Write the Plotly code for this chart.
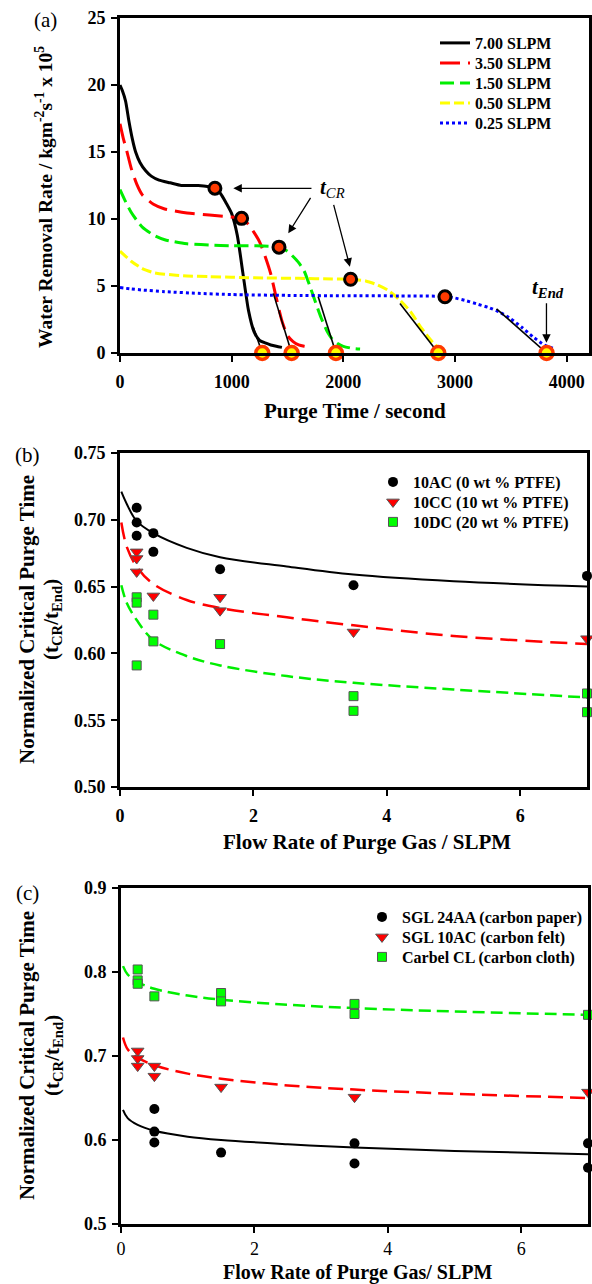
import plotly.graph_objects as go

FONT = "Liberation Serif"
W, H = 592, 1284

# ---------------- Panel (a): water removal rate vs purge time ----------------
names_a = ["7.00 SLPM", "3.50 SLPM", "1.50 SLPM", "0.50 SLPM", "0.25 SLPM"]

t_700 = [0, 20, 50, 80, 110, 140, 180, 230, 280, 350, 450, 550, 700, 800, 850,
         900, 950, 1000, 1050, 1100, 1150, 1200, 1250, 1300, 1350, 1400, 1450]
r_700 = [20.0, 19.6, 18.8, 17.3, 16.0, 15.0, 14.2, 13.6, 13.2, 12.9, 12.7, 12.5, 12.5, 12.4, 12.3,
         11.9, 11.2, 10.4, 8.8, 6.0, 3.2, 1.6, 0.95, 0.75, 0.6, 0.5, 0.42]

t_350 = [0, 30, 60, 100, 150, 200, 300, 400, 600, 800, 1000, 1089, 1150, 1200, 1250,
         1300, 1350, 1400, 1450, 1500, 1550, 1600, 1650, 1700]
r_350 = [17.1, 16.0, 15.1, 13.8, 12.6, 11.8, 11.1, 10.75, 10.45, 10.3, 10.15, 10.05, 9.6, 9.0, 8.3,
         7.2, 5.9, 4.1, 2.4, 1.3, 0.85, 0.6, 0.5, 0.45]

t_150 = [0, 50, 100, 150, 200, 300, 400, 600, 800, 1000, 1200, 1424, 1500, 1550, 1600,
         1650, 1700, 1750, 1800, 1850, 1900, 1950, 2000, 2080, 2150]
r_150 = [12.2, 11.3, 10.5, 9.9, 9.4, 8.8, 8.45, 8.15, 8.05, 8.0, 8.0, 7.9, 7.6, 7.2, 6.75,
         6.1, 5.0, 3.8, 2.65, 1.7, 1.05, 0.7, 0.5, 0.35, 0.3]

t_050 = [0, 100, 200, 300, 400, 600, 800, 1000, 1300, 1600, 1900, 2065, 2200, 2300, 2400,
         2500, 2600, 2700, 2800, 2850]
r_050 = [7.6, 6.85, 6.3, 6.0, 5.88, 5.75, 5.7, 5.65, 5.6, 5.57, 5.52, 5.5, 5.38, 5.1, 4.68,
         4.0, 3.1, 1.85, 0.8, 0.4]

t_025 = [0, 100, 200, 400, 700, 1000, 1500, 2000, 2500, 2910, 3000, 3100, 3200, 3300, 3400,
         3500, 3600, 3700, 3800, 3880]
r_025 = [4.88, 4.78, 4.7, 4.58, 4.45, 4.36, 4.3, 4.27, 4.26, 4.22, 4.1, 3.9, 3.65, 3.4, 3.05,
         2.55, 1.9, 1.2, 0.6, 0.35]

# critical purge time points and end points
tcr_t = [850, 1089, 1424, 2065, 2910]
tcr_r = [12.3, 10.05, 7.9, 5.5, 4.2]
tend_t = [1274, 1537, 1934, 2850, 3820]
tend_r = [0, 0, 0, 0, 0]

# tangent lines (start point on curve -> t_End)
tan_start_t = [1195, 1373, 1775, 2507, 3372]
tan_start_r = [1.9, 4.45, 4.2, 3.7, 3.3]

# arrows (tail -> head)
arrow_tail_t = [1728, 1715, 1910]
arrow_tail_r = [12.29, 11.69, 11.17]
arrow_head_t = [1015, 1507, 2059]
arrow_head_r = [12.29, 8.93, 6.44]
end_arrow_t = 3819
end_arrow_r = [3.83, 0.77]
tcr_label = (1900, 12.3)
tend_label = (3834, 4.83)

# ---------------- Panel (b): PTFE loading ----------------
names_b = ["10AC (0 wt % PTFE)", "10CC (10 wt % PTFE)", "10DC (20 wt % PTFE)"]
flow_b_ac = [0.25, 0.25, 0.25, 0.5, 0.5, 1.5, 3.5, 7]
ratio_b_ac = [0.709, 0.698, 0.688, 0.690, 0.676, 0.663, 0.651, 0.658]
flow_b_cc = [0.25, 0.25, 0.25, 0.5, 1.5, 1.5, 3.5, 7]
ratio_b_cc = [0.676, 0.671, 0.661, 0.643, 0.642, 0.632, 0.616, 0.611]
flow_b_dc = [0.25, 0.25, 0.25, 0.5, 0.5, 1.5, 3.5, 3.5, 7, 7]
ratio_b_dc = [0.642, 0.638, 0.591, 0.629, 0.609, 0.607, 0.568, 0.557, 0.570, 0.556]

fitx_b = [0.02, 0.1, 0.25, 0.5, 1, 1.5, 2.5, 3.5, 5, 7]
fit_b_ac = [0.721, 0.712, 0.699, 0.690, 0.679, 0.672, 0.665, 0.659, 0.654, 0.650]
fit_b_cc = [0.698, 0.680, 0.665, 0.652, 0.640, 0.634, 0.627, 0.621, 0.613, 0.607]
fit_b_dc = [0.651, 0.638, 0.625, 0.610, 0.598, 0.591, 0.583, 0.578, 0.573, 0.567]

# ---------------- Panel (c): GDL type ----------------
names_c = ["SGL 24AA (carbon paper)", "SGL 10AC (carbon felt)", "Carbel CL (carbon cloth)"]
flow_c_paper = [0.5, 0.5, 0.5, 1.5, 3.5, 3.5, 7, 7]
ratio_c_paper = [0.637, 0.610, 0.597, 0.585, 0.596, 0.572, 0.596, 0.567]
flow_c_felt = [0.25, 0.25, 0.25, 0.5, 0.5, 1.5, 3.5, 7]
ratio_c_felt = [0.706, 0.697, 0.688, 0.688, 0.676, 0.663, 0.651, 0.657]
flow_c_cloth = [0.25, 0.25, 0.25, 0.5, 1.5, 1.5, 3.5, 3.5, 7]
ratio_c_cloth = [0.803, 0.790, 0.786, 0.771, 0.775, 0.765, 0.762, 0.750, 0.749]

fitx_c = [0.03, 0.1, 0.25, 0.5, 1, 1.5, 2.5, 3.5, 5, 7]
fit_c_paper = [0.636, 0.626, 0.618, 0.611, 0.604, 0.600, 0.595, 0.591, 0.587, 0.583]
fit_c_felt = [0.722, 0.708, 0.698, 0.689, 0.679, 0.673, 0.665, 0.660, 0.655, 0.650]
fit_c_cloth = [0.807, 0.797, 0.788, 0.780, 0.772, 0.767, 0.761, 0.757, 0.753, 0.749]


def px(xp):
    return xp / W


def py(yp):
    return 1 - yp / H


fig = go.Figure()

# ---- panel (a) curves
a_styles = [
    dict(color="#000000", width=3, dash="solid"),
    dict(color="#ff0000", width=3, dash="20px,8px"),
    dict(color="#00ee00", width=3, dash="14px,6px"),
    dict(color="#ffff00", width=3, dash="10px,4px"),
    dict(color="#0000ff", width=3, dash="dot"),
]
a_data = [(t_700, r_700), (t_350, r_350), (t_150, r_150), (t_050, r_050), (t_025, r_025)]
for i, ((tt, rr), nm, st) in enumerate(zip(a_data, names_a, a_styles)):
    fig.add_trace(go.Scatter(x=tt, y=rr, mode="lines", name=nm, line=dict(shape="spline", smoothing=0.6, **st),
                             xaxis="x", yaxis="y", legend="legend" if i == 0 else f"legend{i + 1}"))

for ts, rs, te, re_ in zip(tan_start_t, tan_start_r, tend_t, tend_r):
    fig.add_trace(go.Scatter(x=[ts, te], y=[rs, re_], mode="lines", line=dict(color="black", width=1.6),
                             showlegend=False, xaxis="x", yaxis="y"))

fig.add_trace(go.Scatter(x=tcr_t, y=tcr_r, mode="markers", showlegend=False, xaxis="x", yaxis="y",
                         marker=dict(size=12, color="#ff3a00", line=dict(color="black", width=3))))
fig.add_trace(go.Scatter(x=tend_t, y=tend_r, mode="markers", showlegend=False, xaxis="x", yaxis="y",
                         cliponaxis=False,
                         marker=dict(size=13, color="#ffff00", line=dict(color="#ff3a00", width=3.5))))

# ---- panel (b)
fig.add_trace(go.Scatter(x=fitx_b, y=fit_b_ac, mode="lines", showlegend=False, xaxis="x2", yaxis="y2",
                         line=dict(color="black", width=2, shape="spline")))
fig.add_trace(go.Scatter(x=fitx_b, y=fit_b_cc, mode="lines", showlegend=False, xaxis="x2", yaxis="y2",
                         line=dict(color="#ff0000", width=2.5, dash="17px,8px", shape="spline")))
fig.add_trace(go.Scatter(x=fitx_b, y=fit_b_dc, mode="lines", showlegend=False, xaxis="x2", yaxis="y2",
                         line=dict(color="#00ee00", width=2.5, dash="12px,6px", shape="spline")))

mk_circle = dict(symbol="circle", size=10, color="black")
mk_tri = dict(symbol="triangle-down", size=11, color="#ff0000", line=dict(color="#555555", width=1))
mk_sq = dict(symbol="square", size=9, color="#00ff00", line=dict(color="#555555", width=1))

for (xx, yy, nm, mk, lg) in [(flow_b_ac, ratio_b_ac, names_b[0], mk_circle, "legend6"),
                             (flow_b_cc, ratio_b_cc, names_b[1], mk_tri, "legend7"),
                             (flow_b_dc, ratio_b_dc, names_b[2], mk_sq, "legend8")]:
    fig.add_trace(go.Scatter(x=xx, y=yy, mode="markers", name=nm, marker=mk, cliponaxis=False,
                             xaxis="x2", yaxis="y2", legend=lg))

# ---- panel (c)
fig.add_trace(go.Scatter(x=fitx_c, y=fit_c_paper, mode="lines", showlegend=False, xaxis="x3", yaxis="y3",
                         line=dict(color="black", width=2, shape="spline")))
fig.add_trace(go.Scatter(x=fitx_c, y=fit_c_felt, mode="lines", showlegend=False, xaxis="x3", yaxis="y3",
                         line=dict(color="#ff0000", width=2.5, dash="15px,7px", shape="spline")))
fig.add_trace(go.Scatter(x=fitx_c, y=fit_c_cloth, mode="lines", showlegend=False, xaxis="x3", yaxis="y3",
                         line=dict(color="#00ee00", width=2.5, dash="12px,6px", shape="spline")))

for (xx, yy, nm, mk, lg) in [(flow_c_paper, ratio_c_paper, names_c[0], mk_circle, "legend9"),
                             (flow_c_felt, ratio_c_felt, names_c[1], mk_tri, "legend10"),
                             (flow_c_cloth, ratio_c_cloth, names_c[2], mk_sq, "legend11")]:
    fig.add_trace(go.Scatter(x=xx, y=yy, mode="markers", name=nm, marker=mk, cliponaxis=False,
                             xaxis="x3", yaxis="y3", legend=lg))

# ---- axes
bold_tick = dict(family=FONT, size=18, color="black", weight="bold")
reg_tick = dict(family=FONT, size=18, color="black")
ax_common = dict(showline=True, linewidth=3, linecolor="black", mirror=True, ticks="outside",
                 ticklen=6, tickwidth=2, tickcolor="black", showgrid=False, zeroline=False,
                 automargin=False)

layout = dict(
    width=W, height=H, margin=dict(l=0, r=0, t=0, b=0, autoexpand=False),
    paper_bgcolor="white", plot_bgcolor="white",
    font=dict(family=FONT, color="black"),
    xaxis=dict(domain=[px(120), px(589)], anchor="y", range=[0, 4200], tickvals=[0, 1000, 2000, 3000, 4000],
               tickfont=bold_tick, ticklabelstandoff=4, **ax_common),
    yaxis=dict(domain=[py(353), py(18)], anchor="x", range=[0, 25], tickvals=[0, 5, 10, 15, 20, 25],
               tickfont=bold_tick, ticklabelstandoff=2, **ax_common),
    xaxis2=dict(domain=[px(120), px(587)], anchor="y2", range=[0, 7], tickvals=[0, 2, 4, 6],
                tickfont=bold_tick, ticklabelstandoff=4, **ax_common),
    yaxis2=dict(domain=[py(787), py(453)], anchor="x2", range=[0.5, 0.75],
                tickvals=[0.5, 0.55, 0.6, 0.65, 0.7, 0.75], tickformat=".2f",
                tickfont=bold_tick, ticklabelstandoff=2, **ax_common),
    xaxis3=dict(domain=[px(121), px(588)], anchor="y3", range=[0, 7], tickvals=[0, 2, 4, 6],
                tickfont=reg_tick, ticklabelstandoff=0, **ax_common),
    yaxis3=dict(domain=[py(1224), py(888)], anchor="x3", range=[0.5, 0.9],
                tickvals=[0.5, 0.6, 0.7, 0.8, 0.9], tickformat=".1f",
                tickfont=bold_tick, ticklabelstandoff=2, **ax_common),
)

# ---- legends (one row each, for exact row spacing)
leg_font = dict(family=FONT, size=16, color="black", weight="bold")
rows_a = [43, 63, 83, 103, 123]
rows_b = [482, 502, 522]
rows_c = [917, 937, 957]
leg_positions = [(px(435), py(r)) for r in rows_a] + [(px(373), py(r)) for r in rows_b] + \
                [(px(362), py(r)) for r in rows_c]
for k, (lx, ly) in enumerate(leg_positions):
    key = "legend" if k == 0 else f"legend{k + 1}"
    layout[key] = dict(x=lx, y=ly, xanchor="left", yanchor="middle", bgcolor="rgba(0,0,0,0)",
                       borderwidth=0, font=leg_font, itemclick=False, itemdoubleclick=False)

fig.update_layout(**layout)

# ---- annotations
ann = []
for tt, tr, ht, hr in zip(arrow_tail_t, arrow_tail_r, arrow_head_t, arrow_head_r):
    ann.append(dict(x=ht, y=hr, ax=tt, ay=tr, xref="x", yref="y", axref="x", ayref="y", text="",
                    showarrow=True, arrowhead=2, arrowsize=1.3, arrowwidth=1.3, arrowcolor="black"))
ann.append(dict(x=end_arrow_t, y=end_arrow_r[1], ax=end_arrow_t, ay=end_arrow_r[0], xref="x", yref="y",
                axref="x", ayref="y", text="", showarrow=True, arrowhead=2, arrowsize=1.3, arrowwidth=1.3,
                arrowcolor="black"))
ann.append(dict(x=tcr_label[0], y=tcr_label[1], xref="x", yref="y", showarrow=False,
                xanchor="center", yanchor="middle",
                text="<b><i>t</i></b><i><sub>CR</sub></i>", font=dict(family=FONT, size=21)))
ann.append(dict(x=tend_label[0], y=tend_label[1], xref="x", yref="y", showarrow=False,
                xanchor="center", yanchor="middle",
                text="<b><i>t</i></b><i><b><sub>End</sub></b></i>", font=dict(family=FONT, size=21)))

title_font = dict(family=FONT, size=21, color="black", weight="bold")
cm = dict(xref="paper", yref="paper", showarrow=False, xanchor="center", yanchor="middle")
# panel labels
for lbl, (xx, yy) in zip(["(a)", "(b)", "(c)"], [(45, 20), (27, 455), (27, 893)]):
    ann.append(dict(x=px(xx), y=py(yy), text=lbl, font=dict(family=FONT, size=21, color="black"), **cm))
# x titles
ann.append(dict(x=px(355), y=py(411), text="Purge Time / second", font=title_font, **cm))
ann.append(dict(x=px(367), y=py(842), text="Flow Rate of Purge Gas / SLPM", font=title_font, **cm))
ann.append(dict(x=px(358), y=py(1272), text="Flow Rate of Purge Gas/ SLPM",
                font=dict(family=FONT, size=20, color="black", weight="bold"), **cm))
# y titles
ann.append(dict(x=px(44), y=py(197), textangle=-90,
                text="Water Removal Rate / kgm<sup>-2</sup>s<sup>-1</sup> x 10<sup>5</sup>",
                font=dict(family=FONT, size=19.5, color="black", weight="bold"), **cm))
for (c1, c2, yc) in [(27, 52, 620), (27, 53, 1056)]:
    ann.append(dict(x=px(c1), y=py(yc), textangle=-90, text="Normalized Critical Purge Time",
                    font=title_font, **cm))
    ann.append(dict(x=px(c2), y=py(yc), textangle=-90, text="(t<sub>CR</sub>/t<sub>End</sub>)",
                    font=title_font, **cm))

fig.update_layout(annotations=ann)
fig.write_html("out.html")
